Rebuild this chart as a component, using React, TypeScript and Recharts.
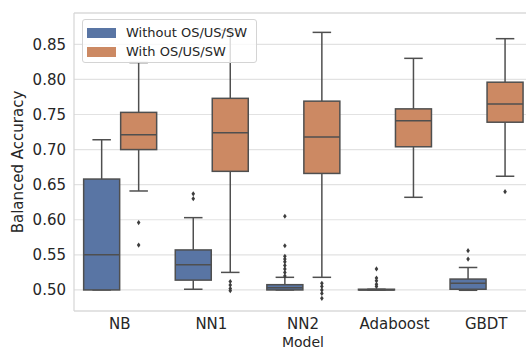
import React from "react";
import {
  ComposedChart,
  Bar,
  XAxis,
  YAxis,
  CartesianGrid,
  ReferenceLine,
} from "recharts";

const models = ["NB", "NN1", "NN2", "Adaboost", "GBDT"];
const seriesNames = ["Without OS/US/SW", "With OS/US/SW"];
const seriesColors = ["#5975a4", "#cc8963"];

// [lower whisker, q1, median, q3, upper whisker]
const withoutStats = [
  [0.5, 0.5, 0.55, 0.658, 0.714],
  [0.501, 0.514, 0.536, 0.557, 0.603],
  [0.5, 0.5, 0.503, 0.5075, 0.518],
  [0.5, 0.5, 0.5, 0.501, 0.501],
  [0.4995, 0.501, 0.5095, 0.5155, 0.532],
];
const withStats = [
  [0.641, 0.7, 0.721, 0.753, 0.824],
  [0.525, 0.669, 0.724, 0.773, 0.87],
  [0.518, 0.666, 0.718, 0.769, 0.867],
  [0.632, 0.704, 0.741, 0.758, 0.83],
  [0.662, 0.739, 0.765, 0.796, 0.858],
];
const withoutOutliers = [
  [],
  [0.637, 0.63],
  [0.605, 0.563, 0.548, 0.544, 0.54, 0.535, 0.53, 0.525, 0.52],
  [0.53, 0.517, 0.513, 0.508, 0.505],
  [0.556, 0.544],
];
const withOutliers = [
  [0.596, 0.564],
  [0.512, 0.507, 0.502, 0.499],
  [0.5095, 0.505, 0.5, 0.495, 0.488],
  [],
  [0.64],
];
const yTicks = [0.5, 0.55, 0.6, 0.65, 0.7, 0.75, 0.8, 0.85];
const yDomain = [0.47, 0.8946];

const data = models.map((model, i) => ({
  model,
  without: withoutStats[i],
  with: withStats[i],
  withoutOut: withoutOutliers[i],
  withOut: withOutliers[i],
}));

const FONT = "DejaVu Sans, sans-serif";
const LINE = "#4f4f4f";

// the bar spans lower..upper whisker, so its pixel box gives the value scale
const makeBoxShape = (statsKey: string, outKey: string) => (props: any) => {
  const { x, y, width, height, payload, fill } = props;
  const [lo, q1, med, q3, hi] = payload[statsKey];
  const outs: number[] = payload[outKey];
  const py = (v: number) => y + ((hi - v) * height) / (hi - lo);
  const cx = x + width / 2;
  const capHalf = width / 4;
  const d = 2.6;
  return (
    <g>
      <line x1={cx} x2={cx} y1={py(hi)} y2={py(q3)} stroke={LINE} strokeWidth={1.5} />
      <line x1={cx} x2={cx} y1={py(q1)} y2={py(lo)} stroke={LINE} strokeWidth={1.5} />
      <line x1={cx - capHalf} x2={cx + capHalf} y1={py(hi)} y2={py(hi)} stroke={LINE} strokeWidth={1.5} />
      <line x1={cx - capHalf} x2={cx + capHalf} y1={py(lo)} y2={py(lo)} stroke={LINE} strokeWidth={1.5} />
      <rect
        x={x + 0.5}
        y={py(q3)}
        width={width - 1}
        height={Math.max(py(q1) - py(q3), 0.5)}
        fill={fill}
        stroke={LINE}
        strokeWidth={1.5}
      />
      <line x1={x + 0.5} x2={x + width - 0.5} y1={py(med)} y2={py(med)} stroke={LINE} strokeWidth={1.5} />
      {outs.map((v, k) => {
        const oy = py(v);
        return (
          <path
            key={k}
            d={`M${cx},${oy - d} L${cx + 1.8},${oy} L${cx},${oy + d} L${cx - 1.8},${oy} Z`}
            fill="#3d3d3d"
          />
        );
      })}
    </g>
  );
};

const YLabel = (props: any) => {
  const vb = props.viewBox;
  const cx = vb.x + 18;
  const cy = vb.y + vb.height / 2;
  return (
    <text
      x={cx}
      y={cy}
      transform={`rotate(-90, ${cx}, ${cy})`}
      textAnchor="middle"
      dominantBaseline="central"
      fontFamily={FONT}
      fontSize={15}
      fill="#262626"
    >
      Balanced Accuracy
    </text>
  );
};

export default function App() {
  return (
    <div
      style={{
        position: "absolute",
        left: 0,
        top: 0,
        width: 526,
        height: 350,
        overflow: "hidden",
        background: "#fff",
      }}
    >
      <ComposedChart
        width={540}
        height={350}
        data={data}
        margin={{ top: 13, right: 8, left: 0, bottom: 0 }}
        barCategoryGap="10%"
        barGap={0}
      >
        <CartesianGrid vertical={false} stroke="#e2e2e2" strokeWidth={1.2} />
        <ReferenceLine y={yDomain[1]} stroke="#d6d6d6" strokeWidth={1.2} ifOverflow="visible" />
        <XAxis
          dataKey="model"
          height={39}
          tickLine={false}
          tickSize={0}
          tickMargin={7}
          axisLine={{ stroke: "#d6d6d6", strokeWidth: 1.2 }}
          tick={{ fontFamily: FONT, fontSize: 15, fill: "#262626" }}
          label={{
            value: "Model",
            position: "insideBottom",
            offset: 3,
            style: { fontFamily: FONT, fontSize: 14, fill: "#262626" },
          }}
        />
        <YAxis
          type="number"
          width={74}
          domain={yDomain}
          ticks={yTicks}
          allowDataOverflow
          tickFormatter={(v: number) => v.toFixed(2)}
          tickLine={false}
          tickSize={0}
          tickMargin={8}
          axisLine={{ stroke: "#d6d6d6", strokeWidth: 1.2 }}
          tick={{ fontFamily: FONT, fontSize: 15, fill: "#262626" }}
          label={{ content: YLabel }}
        />
        <Bar
          name={seriesNames[0]}
          dataKey={(d: any) => [d.without[0], d.without[4]]}
          fill={seriesColors[0]}
          shape={makeBoxShape("without", "withoutOut")}
          isAnimationActive={false}
        />
        <Bar
          name={seriesNames[1]}
          dataKey={(d: any) => [d.with[0], d.with[4]]}
          fill={seriesColors[1]}
          shape={makeBoxShape("with", "withOut")}
          isAnimationActive={false}
        />
      </ComposedChart>
      <div
        style={{
          position: "absolute",
          left: 82,
          top: 19,
          width: 173,
          height: 42,
          background: "rgba(255,255,255,0.8)",
          border: "1px solid #d4d4d4",
          borderRadius: 3,
          fontFamily: FONT,
          fontSize: 13,
          color: "#262626",
        }}
      >
        {seriesNames.map((name, i) => (
          <div
            key={name}
            style={{
              position: "absolute",
              left: 4,
              top: 3 + i * 19,
              height: 19,
              display: "flex",
              alignItems: "center",
              whiteSpace: "nowrap",
            }}
          >
            <span
              style={{
                display: "inline-block",
                width: 29,
                height: 10,
                background: seriesColors[i],
                marginRight: 10,
              }}
            />
            {name}
          </div>
        ))}
      </div>
    </div>
  );
}
